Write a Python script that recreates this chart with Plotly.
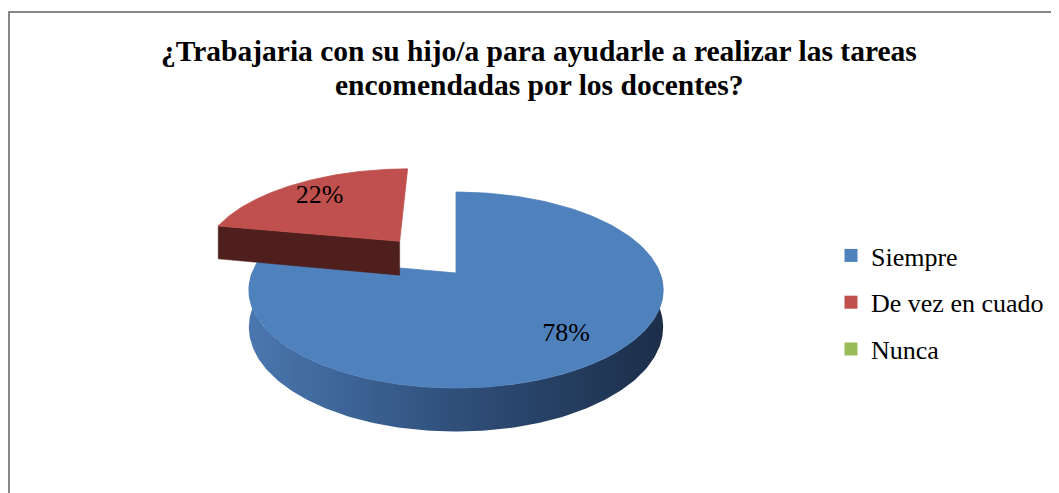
import numpy as np
import plotly.graph_objects as go

# ---- data ----
categories = ["Siempre", "De vez en cuado", "Nunca"]
values = [78, 22, 0]
top_colors = ["#4F81BD", "#C0504D", "#9BBB59"]
side_scales = [
    [[0, "#4A77AF"], [0.5, "#2F4F7A"], [1, "#1C2E49"]],
    [[0, "#4E1F1D"], [1, "#4E1F1D"]],
    [[0, "#6B8540"], [1, "#6B8540"]],
]
explode = [0.0, 0.46, 0.0]
title_lines = ["¿Trabajaria con su hijo/a para ayudarle a realizar las tareas",
               "encomendadas por los docentes?"]

SERIF = "Liberation Serif"

# ---- 3D pie geometry (screen-pixel axes; page body has an 8px margin) ----
W, H_FIG, OFF = 1059, 493, 8
CX, CY, RX, RY, K, DEPTH = 456, 273, 204, 95, 0.174, 36
LABEL_R = 0.76


def proj(X, Z, down=False):
    X = np.asarray(X, dtype=float)
    Z = np.asarray(Z, dtype=float)
    s = 1.0 / (1.0 + K * Z)
    x = CX + RX * X * s
    y = CY - RY * Z * s + (DEPTH * s if down else 0.0)
    return x, y


fig = go.Figure()
total = float(sum(values))
start = 0.0
label_x, label_y, label_t = [], [], []
for i, v in enumerate(values):
    span = 360.0 * v / total
    a0, a1 = start, start + span
    start = a1
    if v <= 0:
        continue
    mid = np.radians((a0 + a1) / 2)
    ox, oz = explode[i] * np.sin(mid), explode[i] * np.cos(mid)
    th = np.radians(np.linspace(a0, a1, 200))
    ex, ez = ox + np.sin(th), oz + np.cos(th)
    tx, ty = proj(ex, ez)

    # outer wall: only the front-facing part
    wa0, wa1 = max(a0, 90.0), min(a1, 270.0)
    if wa1 > wa0:
        wt = np.radians(np.linspace(wa0, wa1, 200))
        wx, wz = ox + np.sin(wt), oz + np.cos(wt)
        ux, uy = proj(wx, wz)
        bx, by = proj(wx, wz, down=True)
        fig.add_trace(go.Scatter(
            x=np.concatenate([ux, bx[::-1], ux[:1]]),
            y=np.concatenate([uy, by[::-1], uy[:1]]),
            fill="toself", mode="lines", line=dict(width=0),
            fillgradient=dict(type="horizontal", colorscale=side_scales[i]),
            hoverinfo="skip", showlegend=False))

    # radial faces facing the viewer
    for ang, sign in ((a0, -1), (a1, 1)):
        r = np.radians(ang)
        nz = -sign * np.sin(r)
        if nz < -0.05:
            px = [ox, ox + np.sin(r)]
            pz = [oz, oz + np.cos(r)]
            t_x, t_y = proj(px, pz)
            b_x, b_y = proj(px, pz, down=True)
            fig.add_trace(go.Scatter(
                x=[t_x[0], t_x[1], b_x[1], b_x[0], t_x[0]],
                y=[t_y[0], t_y[1], b_y[1], b_y[0], t_y[0]],
                fill="toself", mode="lines",
                line=dict(width=0.5, color=side_scales[i][0][1]),
                fillcolor=side_scales[i][0][1],
                hoverinfo="skip", showlegend=False))

    # top face
    cx_, cy_ = proj([ox], [oz])
    fig.add_trace(go.Scatter(
        x=np.concatenate([cx_, tx, cx_]),
        y=np.concatenate([cy_, ty, cy_]),
        fill="toself", mode="lines",
        line=dict(width=0.8, color=top_colors[i]),
        fillcolor=top_colors[i],
        hoverinfo="skip", showlegend=False))

    lx, ly = proj([ox + LABEL_R * np.sin(mid)], [oz + LABEL_R * np.cos(mid)])
    label_x.append(lx[0])
    label_y.append(ly[0])
    label_t.append(f"{v:.0f}%")

fig.add_trace(go.Scatter(
    x=label_x, y=label_y, text=label_t, mode="text",
    textfont=dict(family=SERIF, size=26, color="#000000"),
    hoverinfo="skip", showlegend=False))

# legend entries
for i, c in enumerate(categories):
    fig.add_trace(go.Scatter(
        x=[None], y=[None], mode="markers", name=c,
        legendgroup=c,
        marker=dict(symbol="square", size=13, color=top_colors[i])))

for line, ymid in zip(title_lines, (51, 85)):
    fig.add_annotation(
        x=539, y=ymid, xref="x", yref="y", text=f"<b>{line}</b>",
        showarrow=False, xanchor="center", yanchor="middle",
        font=dict(family=SERIF, size=29.5, color="#000000"))

# chart border (top and left visible)
fig.add_shape(type="path", path=f"M 9 {H_FIG} L 9 12 L {W} 12",
              xref="x", yref="y", line=dict(color="#868686", width=2))

fig.update_layout(
    width=W - OFF, height=H_FIG - OFF,
    margin=dict(l=0, r=0, t=0, b=0),
    paper_bgcolor="white", plot_bgcolor="white",
    xaxis=dict(range=[OFF, W], visible=False, fixedrange=True),
    yaxis=dict(range=[H_FIG, OFF], visible=False, fixedrange=True),
    showlegend=True,
    legend=dict(x=(831 - OFF) / (W - OFF), y=1 - (232 - OFF) / (H_FIG - OFF),
                xanchor="left", yanchor="top",
                font=dict(family=SERIF, size=26, color="#000000"),
                tracegroupgap=10, itemwidth=30, bgcolor="rgba(0,0,0,0)"),
)

fig.write_html("out.html")
